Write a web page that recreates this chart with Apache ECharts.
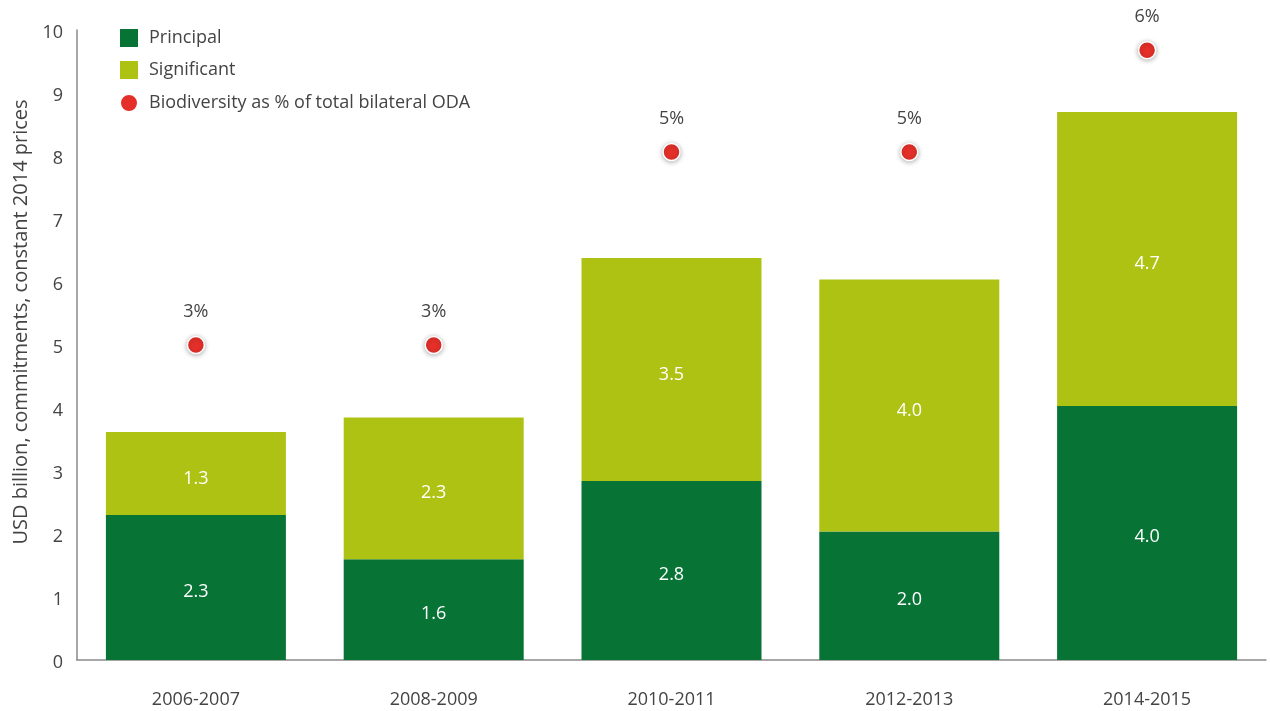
<!DOCTYPE html>
<html>
<head>
<meta charset="utf-8">
<script src="https://cdn.jsdelivr.net/npm/echarts@6/dist/echarts.min.js"></script>
<style>
  html, body { margin: 0; padding: 0; background: #fff; }
  #chart { width: 1270px; height: 711px; }
</style>
</head>
<body>
<div id="chart"></div>
<script>
const periods = ['2006-2007', '2008-2009', '2010-2011', '2012-2013', '2014-2015'];
const principal = [2.3, 1.6, 2.84, 2.04, 4.03];
const significant = [1.32, 2.25, 3.54, 4.0, 4.67];
const biodiversityPct = [3.1, 3.1, 5.0, 5.0, 6.0];

const font = '"Open Sans", "Noto Sans", sans-serif';
const textColor = '#444';

const chart = echarts.init(document.getElementById('chart'));

chart.setOption({
  backgroundColor: '#fff',
  textStyle: { fontFamily: font },
  grid: { left: 77, right: 4, top: 30, bottom: 51 },
  legend: {
    orient: 'vertical',
    left: 114,
    top: 24,
    itemWidth: 18,
    itemHeight: 18,
    itemGap: 14,
    textStyle: { fontSize: 18, color: textColor, padding: [0, 0, 0, 6] },
    data: [
      { name: 'Principal', icon: 'rect' },
      { name: 'Significant', icon: 'rect' },
      { name: 'Biodiversity as % of total bilateral ODA', icon: 'circle' }
    ]
  },
  xAxis: {
    type: 'category',
    data: periods,
    axisLine: { lineStyle: { color: '#8a8a8a', width: 1.5 } },
    axisTick: { show: false },
    axisLabel: { color: textColor, fontSize: 18, margin: 31 }
  },
  yAxis: [
    {
      type: 'value',
      min: 0,
      max: 10,
      interval: 1,
      name: 'USD billion, commitments, constant 2014 prices',
      nameLocation: 'middle',
      nameGap: 46,
      nameTextStyle: { color: textColor, fontSize: 20, padding: [0, 0, 0, 46] },
      axisLine: { show: true, lineStyle: { color: '#8a8a8a', width: 1.5 } },
      axisTick: { show: false },
      splitLine: { show: false },
      axisLabel: { color: textColor, fontSize: 18, margin: 14, verticalAlign: 'top', lineHeight: 6 }
    },
    {
      type: 'value',
      min: 0,
      max: 6.2,
      show: false,
      splitLine: { show: false }
    }
  ],
  series: [
    {
      name: 'Principal',
      type: 'bar',
      stack: 'total',
      barWidth: 180,
      data: principal,
      itemStyle: { color: '#077436' },
      label: {
        show: true,
        color: '#fff',
        fontSize: 18,
        offset: [0, 4],
        formatter: (p) => p.value.toFixed(1)
      }
    },
    {
      name: 'Significant',
      type: 'bar',
      stack: 'total',
      barWidth: 180,
      data: significant,
      itemStyle: { color: '#aec213' },
      label: {
        show: true,
        color: '#fff',
        fontSize: 18,
        offset: [0, 5],
        formatter: (p) => p.value.toFixed(1)
      }
    },
    {
      name: 'Biodiversity as % of total bilateral ODA',
      type: 'scatter',
      yAxisIndex: 1,
      symbolSize: 17,
      data: biodiversityPct,
      itemStyle: {
        color: '#e5302a',
        opacity: 1,
        borderColor: '#fff',
        borderWidth: 1.5,
        shadowBlur: 5,
        shadowColor: 'rgba(0,0,0,0.3)',
        shadowOffsetY: 1
      },
      label: {
        show: true,
        position: 'top',
        distance: 15,
        color: textColor,
        fontSize: 18,
        formatter: (p) => Math.round(p.value) + '%'
      }
    }
  ]
});

window.addEventListener('resize', () => chart.resize());
</script>
</body>
</html>
